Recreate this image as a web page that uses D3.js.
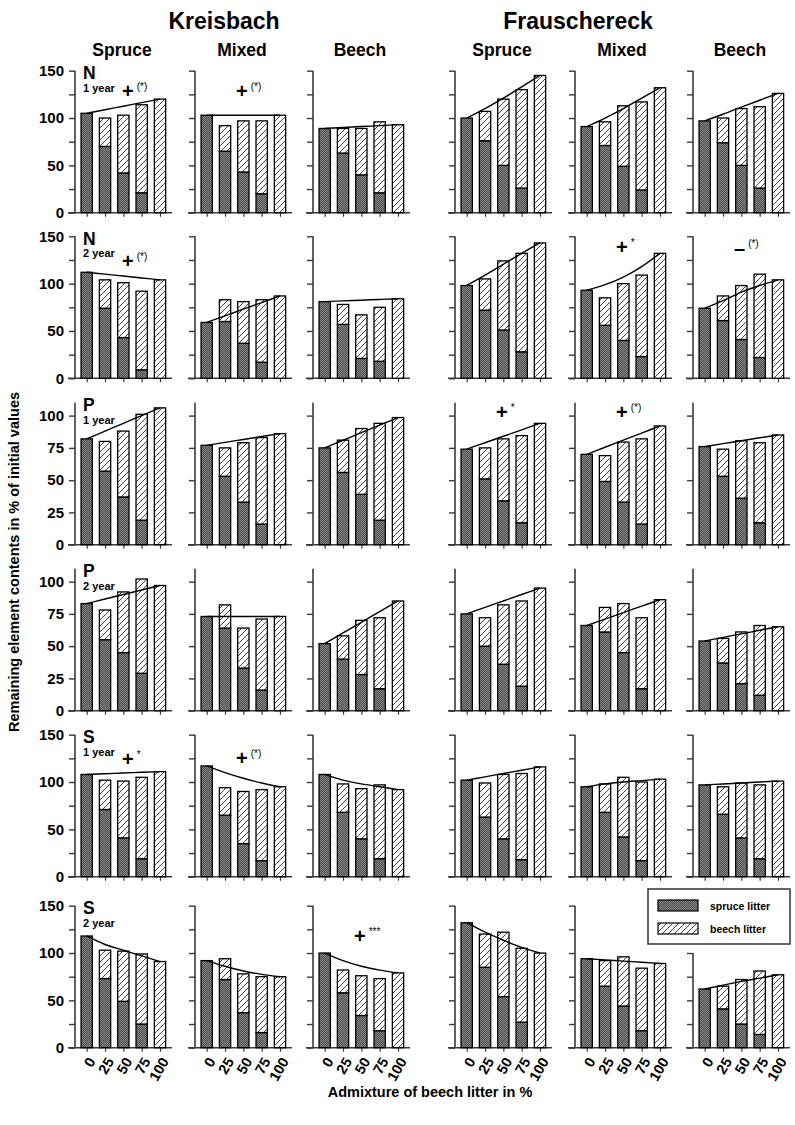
<!DOCTYPE html>
<html><head><meta charset="utf-8">
<script src="https://cdn.jsdelivr.net/npm/d3@7"></script>
<style>
body{margin:0;background:#fff}
svg{display:block}
text{font-family:"Liberation Sans",Arial,Helvetica,sans-serif;font-weight:bold;fill:#000}
</style>
</head><body>
<svg id="chart" width="795" height="1125"></svg>
<script>
// ---------- DATA ----------
const admixture = [0, 25, 50, 75, 100];
const sites = ["Kreisbach", "Frauschereck"];
const stands = ["Spruce", "Mixed", "Beech"];
const elements = ["N", "N", "P", "P", "S", "S"];
const durations = ["1 year", "2 year", "1 year", "2 year", "1 year", "2 year"];
const yTicksNS = [0, 25, 50, 75, 100, 125, 150];
const yLabelsNS = [0, 50, 100, 150];
const yTicksP = [0, 25, 50, 75, 100];
const legendLabels = ["spruce litter", "beech litter"];
const xAxisTitle = "Admixture of beech litter in %";
const yAxisTitle = "Remaining element contents in % of initial values";

// panels per row: K-Spruce, K-Mixed, K-Beech, F-Spruce, F-Mixed, F-Beech
const spruceN1 = [[105,70,42,21,0],[103,65,43,20,0],[89,63,40,21,0],[100,76,50,26,0],[91,71,49,24,0],[97,74,50,26,0]];
const totalN1  = [[105,100,103,114,120],[103,92,97,97,103],[89,89,89,96,93],[100,107,120,130,145],[91,96,113,117,132],[97,100,110,112,126]];
const expectedN1 = [[105,108.8,112.5,116.3,120],[103,103,103,103,103],[89,90,91,92,93],[100,110,121,133,145],[91,100,110,121,132],[97,104,111.5,118.8,126]];

const spruceN2 = [[112,74,43,9,0],[59,60,37,17,0],[81,57,21,18,0],[98,72,51,28,0],[93,56,40,23,0],[74,61,41,22,0]];
const totalN2  = [[112,104,101,92,104],[59,83,81,83,87],[81,78,67,75,84],[98,105,124,132,143],[93,85,100,109,132],[74,87,98,110,104]];
const expectedN2 = [[112,110,108,106,104],[59,66,73,80,87],[81,81.8,82.5,83.3,84],[98,109,120.5,132,143],[93,99,107,118,132],[74,82,91,98,104]];

const spruceP1 = [[82,57,37,19,0],[77,53,33,16,0],[75,56,39,19,0],[74,51,34,17,0],[70,49,33,16,0],[76,53,36,17,0]];
const totalP1  = [[82,80,88,101,106],[77,75,79,83,86],[75,81,90,94,98.5],[74,75,82,84.5,94],[70,69,79.5,82,92],[76,74,80.5,79,85]];
const expectedP1 = [[82,88,94,100,106],[77,79.3,81.5,83.8,86],[75,80.9,86.8,92.6,98.5],[74,79,84,89,94],[70,75.5,81,86.5,92],[76,78.3,80.5,82.8,85]];

const spruceP2 = [[83,55,45,29,0],[73,64,33,16,0],[52,40,28,17,0],[75,50,36,19,0],[66,61,45,17,0],[54,37,21,12,0]];
const totalP2  = [[83,78,92,102,97],[73,82,64,71,73],[52,58,70,72,85],[75,72,82,85,95],[66,80,83,72,86],[54,56,61,66,65]];
const expectedP2 = [[83,86.5,90,93.5,97],[73,73,73,73,73],[52,60.3,68.5,76.8,85],[75,80,85,90,95],[66,71,76,81,86],[54,56.8,59.5,62.3,65]];

const spruceS1 = [[108,71,41,19,0],[117,65,35,17,0],[108,68,40,19,0],[102,63,40,18,0],[95,68,42,17,0],[97,66,41,19,0]];
const totalS1  = [[108,102,101,105,111],[117,94,90,92,95],[108,98,93,97,92],[102,99,108,109,116],[95,98,105,100,103],[97,95,99,97,101]];
const expectedS1 = [[108,108.8,109.5,110.3,111],[117,110,104,99,95],[108,102,98,95,92],[102,105.5,109,112.5,116],[95,98,100,101.5,103],[97,98,99,100,101]];

const spruceS2 = [[118,73,49,25,0],[92,72,37,16,0],[100,58,34,18,0],[132,85,54,27,0],[94,65,44,18,0],[62,41,25,14,0]];
const totalS2  = [[118,103,102,99,91],[92,94,78,75,75],[100,82,76,73,79],[132,120,122,105,100],[94,92,96,84,89],[62,65,72,81,77]];
const expectedS2 = [[118,109,103,97,91],[92,86,81,77.5,75],[100,92,86,82,79],[132,122,113.5,106,100],[94,92.8,91.5,90.3,89],[62,66,70,73.5,77]];

// significance marks: row, panel, sign, stars, height (data units)
const significance = [
  {row:0, col:0, sign:"+", stars:"(*)", at:128},
  {row:0, col:1, sign:"+", stars:"(*)", at:128},
  {row:1, col:0, sign:"+", stars:"(*)", at:123},
  {row:1, col:4, sign:"+", stars:"*",   at:138},
  {row:1, col:5, sign:"\u2013", stars:"(*)", at:137},
  {row:2, col:3, sign:"+", stars:"*",   at:102},
  {row:2, col:4, sign:"+", stars:"(*)", at:102},
  {row:4, col:0, sign:"+", stars:"*",   at:123},
  {row:4, col:1, sign:"+", stars:"(*)", at:124},
  {row:5, col:2, sign:"+", stars:"***", at:117}
];

// ---------- LAYOUT ----------
const rowsData = [
  {spruce:spruceN1, total:totalN1, expected:expectedN1},
  {spruce:spruceN2, total:totalN2, expected:expectedN2},
  {spruce:spruceP1, total:totalP1, expected:expectedP1},
  {spruce:spruceP2, total:totalP2, expected:expectedP2},
  {spruce:spruceS1, total:totalS1, expected:expectedS1},
  {spruce:spruceS2, total:totalS2, expected:expectedS2}
];
const colX = [75, 195, 313, 455, 575, 693];
const rowBase = [212.7, 378.3, 544.7, 710.7, 876.7, 1047.7];
const panelH = 142;
const barW = 11.3;
const axisColor = "#3a3a3a";

const svg = d3.select("#chart");
const defs = svg.append("defs");
const pS = defs.append("pattern").attr("id","spruce").attr("patternUnits","userSpaceOnUse").attr("width",2).attr("height",2);
pS.append("rect").attr("width",2).attr("height",2).attr("fill","#474747");
pS.append("rect").attr("width",1).attr("height",1).attr("fill","#8c8c8c");
pS.append("rect").attr("x",1).attr("y",1).attr("width",1).attr("height",1).attr("fill","#8c8c8c");
const pB = defs.append("pattern").attr("id","beech").attr("patternUnits","userSpaceOnUse").attr("width",6).attr("height",6);
pB.append("rect").attr("width",6).attr("height",6).attr("fill","#fff");
pB.append("path").attr("d","M-1,1 L1,-1 M0,6 L6,0 M5,7 L7,5").attr("stroke","#111").attr("stroke-width",0.8);

// titles
const siteCenters = [224, 578];
sites.forEach((s,i)=>svg.append("text").attr("x",siteCenters[i]).attr("y",29).attr("text-anchor","middle").attr("font-size",23).text(s));
colX.forEach((x0,c)=>svg.append("text").attr("x",x0+47).attr("y",56).attr("text-anchor","middle").attr("font-size",17.5).text(stands[c%3]));

rowsData.forEach((rd, r)=>{
  const isP = elements[r] === "P";
  const yMax = isP ? 110 : 150;
  const base = rowBase[r];
  const y = d3.scaleLinear().domain([0, yMax]).range([base, base - panelH]);
  colX.forEach((x0, c)=>{
    const g = svg.append("g");
    const x = d3.scalePoint().domain(admixture).range([x0 + 11.7, x0 + 85]);
    const sp = rd.spruce[c], tot = rd.total[c], ex = rd.expected[c];
    // y axis
    const ticks = isP ? yTicksP : yTicksNS;
    const legendPanel = (r === 5 && c === 5);
    const axTop = legendPanel ? 100 : yMax;
    const yAx = d3.axisLeft(y).tickValues(ticks.filter(t=>t<=axTop)).tickSize(6).tickSizeOuter(0).tickPadding(5)
      .tickFormat(d => c===0 ? ((isP || yLabelsNS.includes(d)) ? d : "") : "");
    const ya = g.append("g").attr("transform",`translate(${x0},0)`).call(yAx);
    ya.select(".domain").remove();
    ya.append("line").attr("x1",0).attr("x2",0).attr("y1",y(axTop)).attr("y2",base).attr("stroke",axisColor).attr("stroke-width",1.6);
    ya.selectAll(".tick line").attr("stroke",axisColor).attr("stroke-width",1.4);
    ya.selectAll("text").attr("font-size",15).attr("font-family",null).attr("fill","#000");
    // x axis
    const xAx = d3.axisBottom(x).tickSize(4).tickSizeOuter(0).tickFormat("");
    const xa = g.append("g").attr("transform",`translate(0,${base})`).call(xAx);
    xa.select(".domain").remove();
    xa.append("line").attr("x1",x0-7).attr("x2",x0+97).attr("y1",0).attr("y2",0).attr("stroke",axisColor).attr("stroke-width",1.6);
    xa.selectAll(".tick line").attr("stroke",axisColor).attr("stroke-width",1.2);
    if (r === rowsData.length-1) {
      admixture.forEach(a=>{
        g.append("text").attr("transform",`translate(${x(a)+5},${base+11}) rotate(-60)`)
          .attr("text-anchor","end").attr("dy","0.35em").attr("font-size",14.5).text(a);
      });
    }
    // bars
    admixture.forEach((a,i)=>{
      const bx = x(a) - barW/2;
      if (sp[i] > 0) {
        g.append("rect").attr("x",bx).attr("width",barW).attr("y",y(sp[i])).attr("height",y(0)-y(sp[i]))
          .attr("fill","url(#spruce)").attr("stroke","#000").attr("stroke-width",1.3);
      }
      if (tot[i] > sp[i]) {
        g.append("rect").attr("x",bx).attr("width",barW).attr("y",y(tot[i])).attr("height",y(sp[i])-y(tot[i]))
          .attr("fill","url(#beech)").attr("stroke","#000").attr("stroke-width",1.3);
      }
    });
    // expected line
    const line = d3.line().x((d,i)=>x(admixture[i])).y(d=>y(d)).curve(d3.curveMonotoneX);
    g.append("path").datum(ex).attr("d",line).attr("fill","none").attr("stroke","#000").attr("stroke-width",1.4);
    // panel label
    if (c === 0) {
      g.append("text").attr("x",x0+8).attr("y",base-panelH+8.5).attr("font-size",17.5).text(elements[r]);
      g.append("text").attr("x",x0+8).attr("y",base-panelH+21).attr("font-size",11).text(durations[r]);
    }
    // significance
    significance.filter(s=>s.row===r && s.col===c).forEach(s=>{
      const cx = x0 + (c===0 ? 53 : 47);
      const t = g.append("text").attr("x",cx-6).attr("y",y(s.at)+6).attr("font-size",20);
      t.append("tspan").text(s.sign);
      t.append("tspan").attr("font-size",10).attr("font-weight","normal").attr("dx",3).attr("dy",-8).text(s.stars);
    });
  });
});

// legend
const lg = svg.append("g");
lg.append("rect").attr("x",648).attr("y",889).attr("width",142).attr("height",55).attr("fill","#fff").attr("stroke","#333").attr("stroke-width",1.5);
["url(#spruce)","url(#beech)"].forEach((f,i)=>{
  lg.append("rect").attr("x",658).attr("y",900+i*23).attr("width",40).attr("height",11).attr("fill",f).attr("stroke","#000").attr("stroke-width",1.2);
  lg.append("text").attr("x",710).attr("y",909.5+i*23).attr("font-size",10.5).text(legendLabels[i]);
});

// axis titles
svg.append("text").attr("x",430).attr("y",1097).attr("text-anchor","middle").attr("font-size",14.5).text(xAxisTitle);
svg.append("text").attr("transform","translate(19,562) rotate(-90)").attr("text-anchor","middle").attr("font-size",14.5).text(yAxisTitle);
</script>
</body></html>
